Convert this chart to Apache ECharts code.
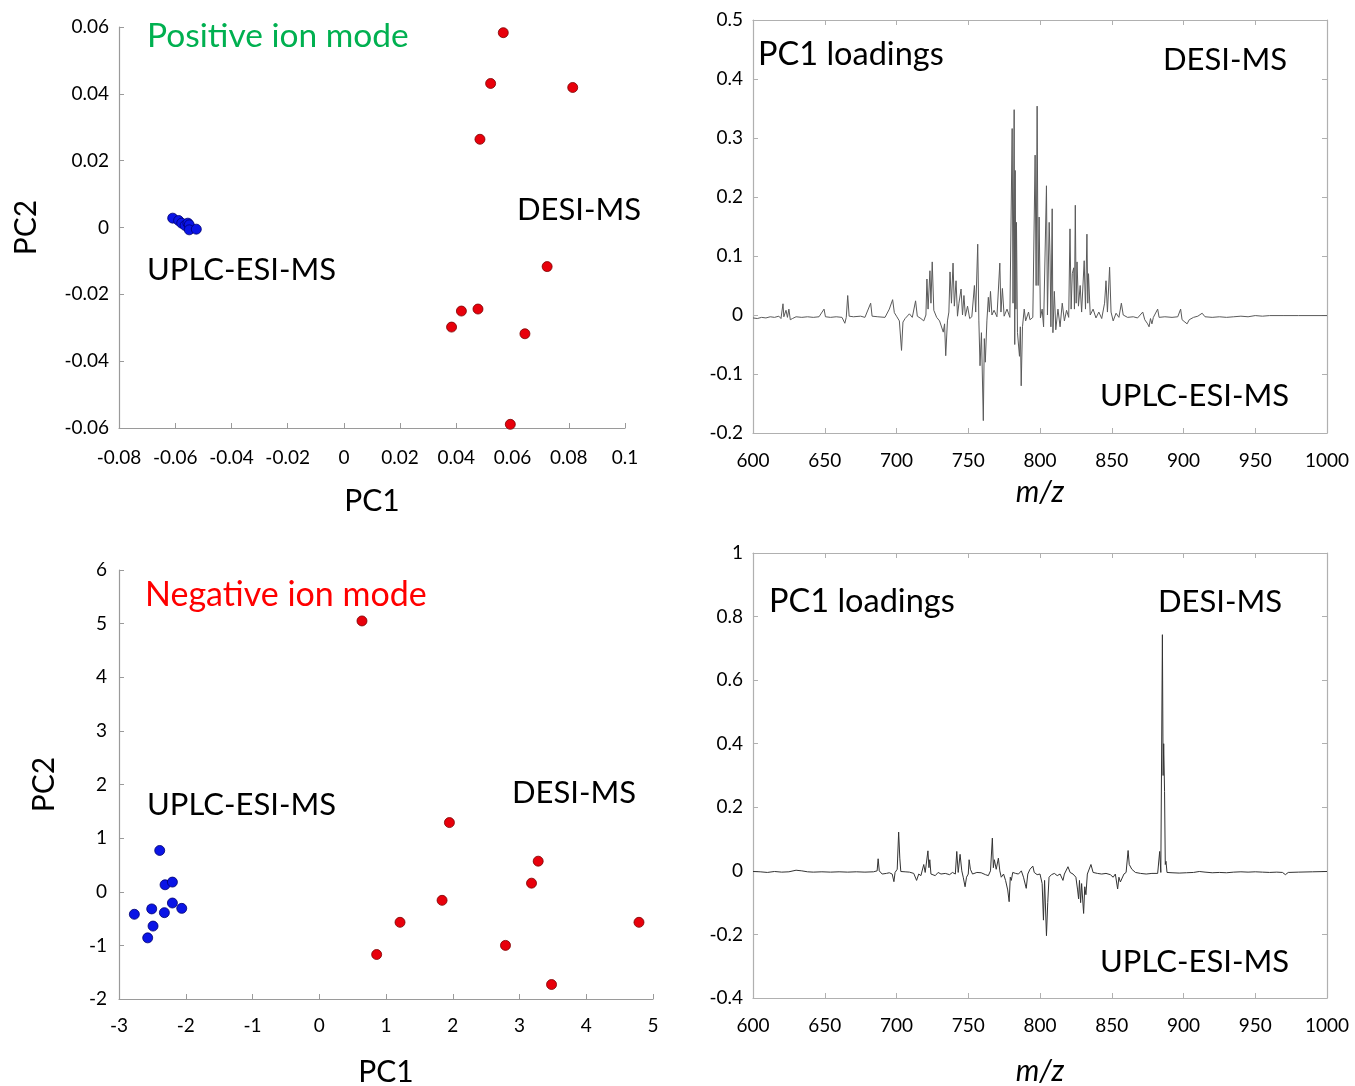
<!DOCTYPE html>
<html>
<head>
<meta charset="utf-8">
<script src="https://cdn.jsdelivr.net/npm/echarts@6/dist/echarts.min.js"></script>
<style>
  html, body { margin: 0; padding: 0; background: #fff; }
  #chart { width: 1355px; height: 1086px; }
</style>
</head>
<body>
<div id="chart"></div>
<script>
// PCA scores, positive ion mode [PC1, PC2]
const posDesi = [
  [0.0567, 0.0583], [0.0522, 0.0431], [0.0814, 0.0419], [0.0484, 0.0264],
  [0.0723, -0.0117], [0.0418, -0.0250], [0.0477, -0.0244], [0.0383, -0.0298],
  [0.0644, -0.0318], [0.0592, -0.0589]
];
const posUplc = [
  [-0.0609, 0.0028], [-0.0588, 0.0021], [-0.0577, 0.0013], [-0.0565, 0.0006],
  [-0.0555, 0.0013], [-0.0550, 0.0008], [-0.0550, -0.0007], [-0.0525, -0.0005]
];
// PCA scores, negative ion mode
const negDesi = [
  [0.64, 5.05], [1.95, 1.29], [3.28, 0.57], [3.18, 0.16], [1.84, -0.16],
  [1.21, -0.57], [0.86, -1.17], [2.79, -1.00], [4.79, -0.57], [3.48, -1.73]
];
const negUplc = [
  [-2.39, 0.77], [-2.31, 0.13], [-2.20, 0.18], [-2.20, -0.21], [-2.06, -0.31],
  [-2.51, -0.32], [-2.32, -0.39], [-2.77, -0.42], [-2.49, -0.64], [-2.57, -0.86]
];

// PC1 loadings [m/z, loading], positive ion mode
const posLoadings = [
  [600,-0.005],[603,-0.006],[606,-0.004],[609,-0.005],[612,-0.003],[615,-0.004],[618,-0.002],
  [619.5,-0.006],[620.9,0.019],[621.5,-0.003],[623,0.008],[624,-0.004],[625,0.010],[626,-0.008],
  [627.5,-0.006],[630,-0.003],[634,-0.004],[638,-0.003],[642,-0.004],[646,-0.003],[649.5,0.010],
  [650.5,-0.003],[654,-0.004],[658,-0.003],[662,-0.004],[664,-0.014],[665,-0.004],[666,0.033],
  [667,-0.002],[670,-0.003],[675,-0.002],[678,-0.004],[682,0.020],[683,-0.002],[687,-0.003],
  [692,-0.004],[695,0.010],[697.3,0.026],[698.5,0.004],[700,-0.002],[702,-0.010],[703.5,-0.060],
  [704.5,-0.012],[706,-0.006],[709,0.002],[711,-0.004],[713.3,0.024],[714.5,-0.002],[717,-0.006],
  [719,-0.010],[720.5,0.000],[721.2,0.061],[722,0.010],[723.3,0.075],[724,0.020],[724.9,0.090],
  [726,0.008],[728,-0.004],[730,-0.010],[732.6,-0.029],[733.5,-0.015],[734.3,-0.069],[735.5,-0.010],
  [736.5,0.005],[737.3,0.073],[738.3,0.020],[739.4,0.088],[740.3,0.015],[741.5,0.058],[742.5,-0.002],
  [743.5,0.020],[745,0.044],[746,0.000],[747,0.033],[748,-0.002],[749.5,0.015],[751,-0.006],
  [752.5,-0.003],[754.3,0.050],[755.2,0.005],[756.6,0.120],[757.4,-0.010],[758.2,-0.086],[759.2,-0.030],
  [760.5,-0.179],[761.2,-0.040],[761.9,-0.080],[763,-0.010],[764,0.030],[764.7,0.005],[765.5,0.040],
  [766.5,0.000],[768,0.008],[770,-0.003],[772,0.088],[772.8,0.005],[773.8,0.045],[775,-0.002],
  [777,0.010],[779,-0.004],[780.6,0.316],[781.2,0.020],[782,0.348],[782.4,-0.050],[782.7,0.245],
  [783.2,0.010],[783.6,0.157],[784.3,-0.030],[785.7,-0.070],[786.3,-0.020],[786.9,-0.120],[787.8,-0.020],
  [789,0.010],[790,-0.010],[792,0.005],[793,-0.008],[795,-0.004],[796.6,0.271],[797.3,0.050],
  [798,0.354],[798.7,0.050],[799.4,0.166],[800.3,-0.005],[801.5,0.010],[802.5,-0.020],[804.5,0.219],
  [805.2,0.000],[806.4,0.157],[807,0.100],[807.6,-0.020],[808.5,0.180],[809,-0.030],[810,0.040],
  [811,-0.025],[812.5,0.010],[814,-0.020],[815.5,0.020],[817,-0.010],[818.5,0.008],[820,-0.004],
  [820.9,0.146],[821.7,0.010],[822.5,0.070],[823.5,0.080],[824,0.010],[824.6,0.186],[825.2,0.020],
  [825.8,0.090],[826.8,0.015],[828,0.050],[829,0.005],[830.8,0.092],[831.7,0.010],[832.7,0.137],
  [833.3,0.020],[833.8,0.070],[835,0.000],[837,0.010],[839,-0.005],[841,0.005],[843,-0.006],
  [845,0.020],[846,0.058],[847,0.005],[848.5,0.081],[849.5,0.005],[851,-0.010],[853,0.003],
  [855,-0.004],[856.7,0.020],[858,0.000],[861,-0.004],[865,-0.003],[868,-0.005],[871.6,0.005],
  [873,-0.008],[875,-0.015],[876,-0.020],[877,-0.006],[878,-0.015],[879,-0.004],[882,0.010],
  [883,-0.004],[887,-0.003],[892,-0.004],[896,-0.003],[898,0.010],[899,-0.008],[901,-0.012],
  [902.5,-0.015],[904,-0.008],[905,-0.010],[907,-0.004],[910,-0.002],[913,0.003],[915,-0.003],
  [920,-0.004],[925,-0.003],[930,-0.004],[935,-0.003],[940,-0.002],[945,-0.003],[950,-0.001],
  [955,-0.002],[960,-0.001],[970,-0.001],[980,-0.001],[1000,-0.001]
];

// PC1 loadings [m/z, loading], negative ion mode
const negLoadings = [
  [600,-0.002],[605,-0.003],[610,-0.005],[615,-0.002],[620,-0.004],[625,-0.003],[630,0.002],
  [634,0.000],[638,-0.003],[642,-0.004],[648,-0.003],[654,-0.004],[660,-0.003],[666,-0.004],
  [672,-0.003],[678,-0.004],[684,-0.003],[686.5,0.000],[687.2,0.038],[688,0.000],[690,-0.010],
  [693,-0.008],[695,-0.006],[697,-0.010],[698.2,-0.034],[699,-0.005],[700.5,0.005],[701.5,0.122],
  [702.3,0.040],[703,-0.002],[706,-0.003],[709,-0.004],[712,-0.008],[714,-0.030],[715.5,-0.010],
  [717,-0.015],[719,0.020],[720,-0.005],[721.9,0.063],[722.6,0.010],[723.2,0.035],[724,-0.010],
  [725,-0.010],[727,-0.015],[729,-0.005],[731,-0.010],[734,-0.008],[737,-0.012],[739,-0.005],
  [741,-0.010],[742,0.061],[743,-0.005],[744.3,0.052],[745.5,0.000],[746.5,-0.020],[747.8,-0.050],
  [748.8,-0.020],[750,-0.010],[750.6,0.035],[751.5,0.005],[753,-0.010],[756,-0.005],[759,-0.006],
  [762,-0.012],[764,-0.015],[765.5,0.000],[766.8,0.103],[767.5,0.010],[768.2,0.035],[769.5,0.005],
  [771,0.040],[772,0.000],[773,-0.020],[774.6,-0.010],[776,-0.030],[777.5,-0.060],[778.5,-0.097],
  [779.3,-0.020],[780,-0.030],[781,-0.005],[783,-0.008],[785,-0.010],[787,0.000],[788.5,-0.020],
  [790.4,-0.055],[791.5,-0.010],[793,0.005],[795,0.015],[796,-0.005],[798,-0.012],[800,-0.010],
  [801.5,-0.040],[802.4,-0.155],[803.2,-0.030],[804.5,-0.204],[805.4,-0.100],[806.3,-0.020],[808,-0.012],
  [810,-0.008],[812,-0.015],[814,-0.010],[816,-0.030],[817,-0.010],[819.5,0.013],[821,-0.005],
  [823,-0.010],[825,-0.020],[826.2,-0.060],[826.9,-0.088],[827.5,-0.030],[828.3,-0.100],[829,-0.040],
  [830.4,-0.134],[831.2,-0.050],[832,-0.075],[833,-0.010],[835.5,0.020],[837,-0.005],[840,-0.008],
  [843,-0.010],[846,-0.008],[849,-0.012],[851,-0.020],[852.5,-0.010],[854.1,-0.057],[855,-0.020],
  [856,-0.035],[857,-0.030],[858.5,-0.010],[860,-0.005],[861.4,0.064],[862.2,0.020],[863,0.025],
  [864,0.005],[865,0.010],[866.5,-0.005],[870,-0.008],[874,-0.010],[878,-0.008],[882,-0.008],
  [883.4,0.061],[884.2,-0.005],[885.3,0.743],[885.8,0.300],[886.2,0.400],[886.8,0.250],[887.3,0.020],
  [887.8,0.030],[888.5,-0.005],[892,-0.006],[897,-0.007],[902,-0.006],[907,-0.005],[911,-0.002],
  [915,-0.004],[920,-0.006],[925,-0.005],[930,-0.006],[935,-0.004],[940,-0.003],[945,-0.004],
  [950,-0.003],[955,-0.004],[960,-0.005],[965,-0.004],[969,-0.005],[971,-0.012],[973,-0.005],
  [980,-0.004],[990,-0.003],[1000,-0.002]
];

const FONT = "Lato, 'Open Sans', sans-serif";
const axisGray = "#9a9a9a";

function scatterAxis(pos, min, max, step, name, gap, margin) {
  return {
    type: "value",
    position: pos,
    min: min,
    max: max,
    interval: step,
    name: name,
    nameLocation: "middle",
    nameGap: gap,
    nameTextStyle: { fontFamily: FONT, fontSize: 30, color: "#000" },
    axisLine: { show: true, onZero: false, lineStyle: { color: axisGray, width: 1.2 } },
    axisTick: { show: true, inside: true, length: 5, lineStyle: { color: axisGray } },
    axisLabel: { fontFamily: FONT, fontSize: 19, color: "#000", margin: margin },
    splitLine: { show: false }
  };
}

function boxAxis(pos, min, max, step, showLabel, margin) {
  return {
    type: "value",
    position: pos,
    min: min,
    max: max,
    interval: step,
    axisLine: { show: true, onZero: false, lineStyle: { color: "#b0b0b0", width: 1.2 } },
    axisTick: { show: true, inside: true, length: 5, lineStyle: { color: "#b0b0b0" } },
    axisLabel: {
      show: showLabel, fontFamily: FONT, fontSize: 19, color: "#000", margin: margin,
      formatter: function (v) { return String(v); }
    },
    splitLine: { show: false }
  };
}

function label(x, y, text, color, size) {
  return {
    type: "text",
    x: x,
    y: y,
    style: {
      text: text,
      font: (size || 31) + "px " + FONT,
      fill: color || "#000",
      verticalAlign: "middle"
    }
  };
}

const chart = echarts.init(document.getElementById("chart"), null, { renderer: "canvas" });

const mzX = (grid) => Object.assign(boxAxis("bottom", 600, 1000, 50, true, 18), {
  gridIndex: grid,
  name: "m/z",
  nameLocation: "middle",
  nameGap: 44,
  nameTextStyle: { fontFamily: FONT, fontSize: 30, fontStyle: "italic", color: "#000" }
});

const option = {
  animation: false,
  backgroundColor: "#fff",
  grid: [
    { left: 119, top: 27, width: 506, height: 401, outerBoundsMode: "none" },
    { left: 753, top: 20, width: 574, height: 413, outerBoundsMode: "none" },
    { left: 119, top: 570, width: 534, height: 429, outerBoundsMode: "none" },
    { left: 753, top: 553, width: 574, height: 445, outerBoundsMode: "none" }
  ],
  xAxis: [
    Object.assign(scatterAxis("bottom", -0.08, 0.1, 0.02, "PC1", 58, 20), { gridIndex: 0 }),
    Object.assign(mzX(1), {}),
    Object.assign(boxAxis("top", 600, 1000, 50, false, 8), { gridIndex: 1 }),
    Object.assign(scatterAxis("bottom", -3, 5, 1, "PC1", 58, 17), { gridIndex: 2 }),
    Object.assign(mzX(3), { nameGap: 58 }),
    Object.assign(boxAxis("top", 600, 1000, 50, false, 8), { gridIndex: 3 })
  ],
  yAxis: [
    Object.assign(scatterAxis("left", -0.06, 0.06, 0.02, "PC2", 78, 10), { gridIndex: 0 }),
    Object.assign(boxAxis("left", -0.2, 0.5, 0.1, true, 10), { gridIndex: 1 }),
    Object.assign(boxAxis("right", -0.2, 0.5, 0.1, false, 8), { gridIndex: 1 }),
    Object.assign(scatterAxis("left", -2, 6, 1, "PC2", 60, 12), { gridIndex: 2 }),
    Object.assign(boxAxis("left", -0.4, 1, 0.2, true, 10), { gridIndex: 3 }),
    Object.assign(boxAxis("right", -0.4, 1, 0.2, false, 8), { gridIndex: 3 })
  ],
  series: [
    {
      type: "scatter", xAxisIndex: 0, yAxisIndex: 0, data: posDesi, symbolSize: 10,
      itemStyle: { color: "#e8000b", borderColor: "#7a0000", borderWidth: 0.8, opacity: 1 }
    },
    {
      type: "scatter", xAxisIndex: 0, yAxisIndex: 0, data: posUplc, symbolSize: 10,
      itemStyle: { color: "#0a14e6", borderColor: "#00006e", borderWidth: 0.8, opacity: 1 }
    },
    {
      type: "line", xAxisIndex: 1, yAxisIndex: 1, data: posLoadings, showSymbol: false,
      lineStyle: { color: "#5a5a5a", width: 1 }
    },
    {
      type: "scatter", xAxisIndex: 3, yAxisIndex: 3, data: negDesi, symbolSize: 10,
      itemStyle: { color: "#e8000b", borderColor: "#7a0000", borderWidth: 0.8, opacity: 1 }
    },
    {
      type: "scatter", xAxisIndex: 3, yAxisIndex: 3, data: negUplc, symbolSize: 10,
      itemStyle: { color: "#0a14e6", borderColor: "#00006e", borderWidth: 0.8, opacity: 1 }
    },
    {
      type: "line", xAxisIndex: 4, yAxisIndex: 4, data: negLoadings, showSymbol: false,
      lineStyle: { color: "#333", width: 1 }
    }
  ],
  graphic: [
    label(147, 36, "Positive ion mode", "#00b050", 33.5),
    label(517, 210, "DESI-MS"),
    label(147, 270, "UPLC-ESI-MS"),
    label(758, 55, "PC1 loadings", null, 32.5),
    label(1163, 60, "DESI-MS"),
    label(1100, 396, "UPLC-ESI-MS"),
    label(145, 595, "Negative ion mode", "#ff0000", 34),
    label(147, 805, "UPLC-ESI-MS"),
    label(512, 793, "DESI-MS"),
    label(769, 602, "PC1 loadings", null, 32.5),
    label(1158, 602, "DESI-MS"),
    label(1100, 962, "UPLC-ESI-MS")
  ]
};

chart.setOption(option);
</script>
</body>
</html>
